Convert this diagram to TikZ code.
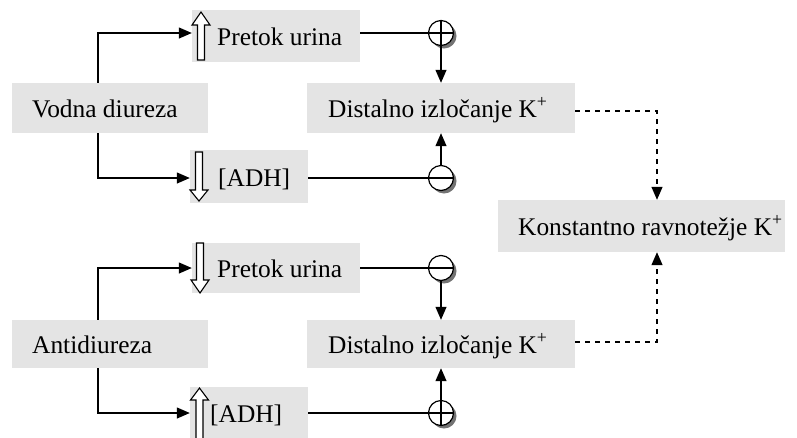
\documentclass[tikz,border=0pt]{standalone}
\usepackage{fontspec}
\setmainfont{Liberation Serif}
\usetikzlibrary{arrows.meta}
\definecolor{boxgray}{HTML}{E4E4E4}
\tikzset{
  x=1pt, y=-1pt,
  box/.style={fill=boxgray, draw=none, inner sep=0pt},
  lbl/.style={anchor=base west, inner sep=0pt, font=\fontsize{25.4}{30}\selectfont},
  conn/.style={line width=1.2pt, -{Triangle[length=13pt,width=11pt]}},
  plain/.style={line width=1.2pt},
  dconn/.style={line width=1.3pt, dash pattern=on 5pt off 5pt, -{Triangle[length=13pt,width=11pt]}},
  sumc/.style={circle, draw, line width=1.2pt, fill=white, minimum size=25pt, inner sep=0pt},
  shad/.style={circle, fill=black!55, minimum size=25pt, inner sep=0pt},
  hollow/.style={draw, line width=1.1pt, fill=white, line join=miter},
}
\begin{document}
\begin{tikzpicture}
\useasboundingbox (0,0) rectangle (797,437);
% boxes
\node[box, minimum width=196pt, minimum height=50pt] (vodna) at (110,108) {};
\node[box, minimum width=168pt, minimum height=52pt] (pretokA) at (276,36) {};
\node[box, minimum width=118pt, minimum height=53pt] (adhA) at (249,176.5) {};
\node[box, minimum width=268pt, minimum height=50pt] (distA) at (441,108) {};
\node[box, minimum width=287pt, minimum height=52pt] (konst) at (641.5,226) {};
\node[box, minimum width=168pt, minimum height=50pt] (pretokB) at (276,268) {};
\node[box, minimum width=196pt, minimum height=48pt] (anti) at (110,344) {};
\node[box, minimum width=268pt, minimum height=48pt] (distB) at (441,344) {};
\node[box, minimum width=118pt, minimum height=52pt] (adhB) at (249,413) {};
% labels
\node[lbl] (tvodna) at (32,117) {Vodna diureza};
\node[lbl] (tpretokA) at (217,45) {Pretok urina};
\node[lbl] (tadhA) at (218,186) {[ADH]};
\node[lbl] (tdistA) at (328,117) {Distalno izločanje K\textsuperscript{+}};
\node[lbl] (tkonst) at (518,235) {Konstantno ravnotežje K\textsuperscript{+}};
\node[lbl] (tpretokB) at (217,277) {Pretok urina};
\node[lbl] (tanti) at (32,353) {Antidiureza};
\node[lbl] (tdistB) at (328,353) {Distalno izločanje K\textsuperscript{+}};
\node[lbl] (tadhB) at (210,422) {[ADH]};
% hollow arrows
\draw[hollow] (197.5,60) -- (197.5,25) -- (192,25) -- (201,12) -- (210,25) -- (204.5,25) -- (204.5,60) -- cycle;
\draw[hollow] (195.5,152) -- (195.5,190) -- (190,190) -- (199,201) -- (208,190) -- (202.5,190) -- (202.5,152) -- cycle;
\draw[hollow] (196.5,243) -- (196.5,280) -- (191,280) -- (200,293) -- (209,280) -- (203.5,280) -- (203.5,243) -- cycle;
\draw[hollow] (196,440) -- (196,400) -- (190.5,400) -- (199.5,388) -- (208.5,400) -- (203,400) -- (203,440) -- cycle;
% summing circles
\node[shad] at (444,36) {};
\node[sumc] (cA) at (441,33) {};
\draw[line width=1.2pt] (cA.north) -- (cA.south) (cA.west) -- (cA.east);
\node[shad] at (444,181) {};
\node[sumc] (cB) at (441,178) {};
\draw[line width=1.2pt] (cB.west) -- (cB.east);
\node[shad] at (444,271) {};
\node[sumc] (cC) at (441,268) {};
\draw[line width=1.2pt] (cC.west) -- (cC.east);
\node[shad] at (444,416) {};
\node[sumc] (cD) at (441,413) {};
\draw[line width=1.2pt] (cD.north) -- (cD.south) (cD.west) -- (cD.east);
% branch coordinates
\coordinate (jA) at (98,108);
\coordinate (jB) at (98,344);
\coordinate (dA) at (657,111);
\coordinate (dB) at (657,342);
% connectors
\draw[conn] (jA |- vodna.north) |- (pretokA.west |- cA);
\draw[conn] (jA |- vodna.south) |- (adhA.west |- cB);
\draw[plain] (pretokA.east |- cA) -- (cA.west);
\draw[plain] (adhA.east |- cB) -- (cB.west);
\draw[conn] (cA.south) -- (distA.north);
\draw[conn] (cB.north) -- (distA.south);
\draw[conn] (jB |- anti.north) |- (pretokB.west |- cC);
\draw[conn] (jB |- anti.south) |- (adhB.west |- cD);
\draw[plain] (pretokB.east |- cC) -- (cC.west);
\draw[plain] (adhB.east |- cD) -- (cD.west);
\draw[conn] (cC.south) -- (distB.north);
\draw[conn] (cD.north) -- (distB.south);
\draw[dconn] (distA.east |- dA) -- (dA) -- (dA |- konst.north);
\draw[dconn] (distB.east |- dB) -- (dB) -- (dB |- konst.south);
\end{tikzpicture}
\end{document}
